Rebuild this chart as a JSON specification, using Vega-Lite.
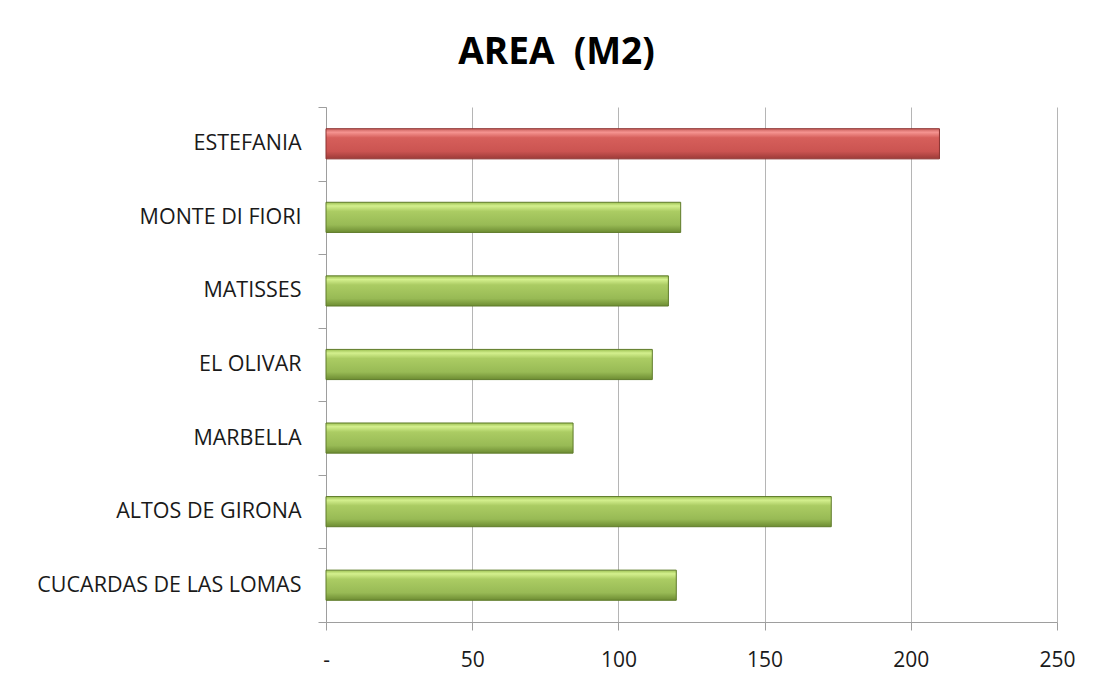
{
  "$schema": "https://vega.github.io/schema/vega-lite/v6.json",
  "width": 731,
  "height": 515,
  "autosize": {"type": "none"},
  "padding": {"left": 326, "top": 107, "right": 49, "bottom": 68},
  "background": "white",
  "title": {
    "text": "AREA\u00a0 (M2)",
    "font": "Open Sans",
    "fontSize": 37,
    "fontWeight": "bold",
    "color": "#000000",
    "anchor": "middle",
    "frame": "group",
    "dx": -135,
    "baseline": "alphabetic",
    "offset": -5
  },
  "data": {
    "values": [
      {"name": "ESTEFANIA", "area": 209.8, "highlight": "yes"},
      {"name": "MONTE DI FIORI", "area": 121.3, "highlight": "no"},
      {"name": "MATISSES", "area": 117.1, "highlight": "no"},
      {"name": "EL OLIVAR", "area": 111.6, "highlight": "no"},
      {"name": "MARBELLA", "area": 84.5, "highlight": "no"},
      {"name": "ALTOS DE GIRONA", "area": 172.8, "highlight": "no"},
      {"name": "CUCARDAS DE LAS LOMAS", "area": 119.8, "highlight": "no"}
    ]
  },
  "mark": {"type": "bar", "strokeWidth": 1, "height": {"band": 0.41}},
  "encoding": {
    "y": {
      "field": "name",
      "type": "nominal",
      "sort": null,
      "scale": {"paddingInner": 0, "paddingOuter": 0},
      "axis": {
        "title": null,
        "tickBand": "extent",
        "tickSize": 8,
        "tickColor": "#9e9e9e",
        "domainColor": "#9e9e9e",
        "labelFont": "Open Sans",
        "labelFontSize": 21.5,
        "labelColor": "#1a1a1a",
        "labelPadding": 17,
        "labelLimit": 320,
        "grid": false
      }
    },
    "x": {
      "field": "area",
      "type": "quantitative",
      "scale": {"domain": [0, 250], "nice": false},
      "axis": {
        "title": null,
        "values": [0, 50, 100, 150, 200, 250],
        "labelExpr": "datum.value === 0 ? '-' : datum.label",
        "tickSize": 8,
        "tickColor": "#9e9e9e",
        "domainColor": "#9e9e9e",
        "gridColor": "#b5b5b5",
        "grid": true,
        "labelFont": "Open Sans",
        "labelFontSize": 21,
        "labelColor": "#1a1a1a",
        "labelPadding": 19,
        "labelFlush": false
      }
    },
    "fill": {
      "condition": {
        "test": "datum.highlight === 'yes'",
        "value": {
          "gradient": "linear", "x1": 0, "y1": 0, "x2": 0, "y2": 1,
          "stops": [
            {"offset": 0, "color": "#c9605d"},
            {"offset": 0.12, "color": "#f59390"},
            {"offset": 0.3, "color": "#d65f5b"},
            {"offset": 0.75, "color": "#cb5451"},
            {"offset": 1, "color": "#9c3b38"}
          ]
        }
      },
      "value": {
        "gradient": "linear", "x1": 0, "y1": 0, "x2": 0, "y2": 1,
        "stops": [
          {"offset": 0, "color": "#9cc052"},
          {"offset": 0.12, "color": "#d4f08e"},
          {"offset": 0.3, "color": "#abcc63"},
          {"offset": 0.75, "color": "#98ba55"},
          {"offset": 1, "color": "#6d8c32"}
        ]
      }
    },
    "stroke": {
      "condition": {"test": "datum.highlight === 'yes'", "value": "#8c3230"},
      "value": "#5f7b2a"
    }
  },
  "config": {
    "view": {"stroke": null}
  }
}
